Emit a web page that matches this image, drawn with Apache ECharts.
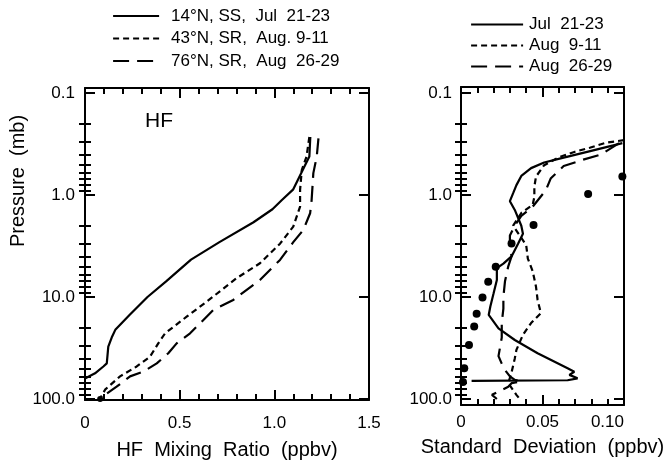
<!DOCTYPE html>
<html><head><meta charset="utf-8">
<script src="https://cdn.jsdelivr.net/npm/echarts@6/dist/echarts.min.js"></script>
<style>html,body{margin:0;padding:0;background:#fff}#c{width:667px;height:461px}</style>
</head><body><div id="c"></div>
<script>
const FONT = '"Liberation Sans", Arial, Helvetica, sans-serif';

// ---- axis ticks / labels ----
const pressureTicks = [0.1, 1, 10, 100];
const pressureTickLabels = ['0.1', '1.0', '10.0', '100.0'];
const pressureMinorTicks = [0.2,0.3,0.4,0.5,0.6,0.7,0.8,0.9,2,3,4,5,6,7,8,9,20,30,40,50,60,70,80,90];
const hfTicks = [0, 0.5, 1.0, 1.5];
const hfTickLabels = ['0', '0.5', '1.0', '1.5'];
const hfMinorTicks = [0.1,0.2,0.3,0.4,0.6,0.7,0.8,0.9,1.1,1.2,1.3,1.4];
const sdTicks = [0, 0.05, 0.10];
const sdTickLabels = ['0', '0.05', '0.10'];
const sdMinorTicks = [0.01,0.02,0.03,0.04,0.06,0.07,0.08,0.09];

// ---- left panel: HF mixing ratio (ppbv) vs pressure (mb) ----
const hf14Name = '14°N, SS,  Jul  21-23';
const hf14V = [1.19, 1.185, 1.15, 1.10, 1.04, 0.99, 0.89, 0.71, 0.56, 0.43, 0.33, 0.235, 0.16, 0.141, 0.123, 0.115, 0.097, 0.053, 0.0];
const hf14P = [0.27, 0.42, 0.57, 0.88, 1.12, 1.38, 1.85, 2.9, 4.3, 7.0, 10.0, 15.0, 21, 25, 30.7, 44.7, 48, 56, 63];

const hf43Name = '43°N, SR,  Aug. 9-11';
const hf43V = [1.185, 1.17, 1.145, 1.136, 1.136, 1.10, 1.03, 0.924, 0.80, 0.643, 0.537, 0.423, 0.387, 0.343, 0.273, 0.185, 0.106, 0.079];
const hf43P = [0.27, 0.42, 0.57, 0.89, 1.3, 2.04, 3.0, 4.67, 6.55, 11.1, 15.6, 22.7, 28.5, 38.5, 48, 60, 81, 100];

const hf76Name = '76°N, SR,  Aug  26-29';
const hf76V = [1.233, 1.224, 1.206, 1.197, 1.189, 1.153, 1.10, 1.03, 0.924, 0.783, 0.678, 0.555, 0.484, 0.44, 0.379, 0.308, 0.238, 0.167, 0.106, 0.08];
const hf76P = [0.278, 0.42, 0.61, 1.12, 1.51, 2.2, 2.9, 4.33, 6.8, 10.7, 13.4, 22.7, 28.5, 35.6, 44.7, 54, 60, 75.7, 91, 100];

const hfDotV = [0.08];
const hfDotP = [100];

// ---- right panel: standard deviation (ppbv) vs pressure (mb) ----
const sdJulName = 'Jul  21-23';
const sdJulV = [0.099, 0.078, 0.063, 0.051, 0.043, 0.037, 0.034, 0.032, 0.030, 0.033, 0.037, 0.038, 0.035, 0.031, 0.026, 0.022, 0.022, 0.020, 0.018, 0.017, 0.023, 0.033, 0.047, 0.0654, 0.0695, 0.0665, 0.0715, 0.0654, 0.0065];
const sdJulP = [0.31, 0.375, 0.43, 0.48, 0.545, 0.65, 0.8, 0.96, 1.15, 1.4, 2.0, 2.4, 3.0, 4.0, 4.7, 5.2, 6.8, 9.2, 12.4, 15, 20.3, 26.4, 35.6, 50, 54, 58, 62.7, 65.5, 66.5];

const sdAug9Name = 'Aug  9-11';
const sdAug9V = [0.1, 0.089, 0.079, 0.070, 0.060, 0.051, 0.046, 0.045, 0.045, 0.044, 0.037, 0.032, 0.040, 0.041, 0.044, 0.046, 0.047, 0.049, 0.043, 0.038, 0.034, 0.033, 0.031, 0.029, 0.034, 0.036];
const sdAug9P = [0.29, 0.307, 0.344, 0.376, 0.427, 0.51, 0.66, 0.83, 1.04, 1.25, 1.5, 2.0, 3.1, 4.2, 5.6, 7.9, 10.7, 14.4, 18, 23.5, 33, 40, 55, 70, 91, 100];

const sdAug26Name = 'Aug  26-29';
const sdAug26V = [0.097, 0.086, 0.075, 0.063, 0.055, 0.052, 0.044, 0.037, 0.033, 0.030, 0.030, 0.031, 0.029, 0.027, 0.026, 0.026, 0.025, 0.025, 0.023, 0.025, 0.027, 0.030, 0.033, 0.037, 0.031, 0.029, 0.019, 0.022];
const sdAug26P = [0.31, 0.40, 0.45, 0.52, 0.69, 0.9, 1.3, 1.6, 2.0, 2.5, 3.0, 4.0, 5.0, 7.0, 10, 13, 18, 25, 38, 45, 52, 60, 65, 67, 70, 76, 91, 100];

const sdDotV = [0.099, 0.078, 0.0445, 0.031, 0.0213, 0.0167, 0.0132, 0.0096, 0.0081, 0.0049, 0.002, 0.0012];
const sdDotP = [0.66, 0.98, 1.97, 2.98, 5.05, 7.1, 10.1, 14.6, 19.5, 29.5, 50, 68];

// ---- helpers ----
const zip = (v, p) => v.map((x, i) => [x, p[i]]);
const lookup = (vals, labels) => (value) => {
  for (let i = 0; i < vals.length; i++) {
    if (Math.abs(vals[i] - value) < 1e-9) return labels[i];
  }
  return '';
};
const logLookup = (vals, labels) => (value) => {
  for (let i = 0; i < vals.length; i++) {
    if (Math.abs(Math.log10(vals[i]) - Math.log10(value)) < 1e-6) return labels[i];
  }
  return '';
};
const BLACK = '#000';
const tickLine = { color: BLACK, width: 2 };
const frameLine = { show: true, onZero: false, lineStyle: { color: BLACK, width: 2 } };

function yAxesFor(gridIndex, min, max, labelMargin) {
  const base = {
    type: 'log', logBase: 10, gridIndex, min, max, inverse: true,
    splitLine: { show: false }, minorTick: { show: false }, minorSplitLine: { show: false },
    axisLine: { show: false }, axisTick: { show: false }, axisLabel: { show: false }
  };
  return [
    Object.assign({}, base, {
      position: 'left', axisLine: frameLine,
      axisTick: { show: true, inside: true, length: 10, lineStyle: tickLine, customValues: pressureTicks },
      axisLabel: { show: true, customValues: pressureTicks, formatter: logLookup(pressureTicks, pressureTickLabels),
        margin: labelMargin, color: BLACK, fontSize: 17, fontFamily: FONT }
    }),
    Object.assign({}, base, {
      position: 'left',
      axisTick: { show: true, inside: true, length: 6, lineStyle: tickLine, customValues: pressureMinorTicks }
    }),
    Object.assign({}, base, {
      position: 'right', axisLine: frameLine,
      axisTick: { show: true, inside: true, length: 10, lineStyle: tickLine, customValues: pressureTicks }
    }),
    Object.assign({}, base, {
      position: 'right',
      axisTick: { show: true, inside: true, length: 6, lineStyle: tickLine, customValues: pressureMinorTicks }
    })
  ];
}

function xAxesFor(gridIndex, max, ticks, labels, minor, margin, name, nameGap, alignMax) {
  const base = {
    type: 'value', gridIndex, min: 0, max,
    splitLine: { show: false }, minorSplitLine: { show: false }, minorTick: { show: false },
    axisLine: { show: false }, axisTick: { show: false }, axisLabel: { show: false }
  };
  return [
    Object.assign({}, base, {
      position: 'bottom', axisLine: frameLine,
      axisTick: { show: true, inside: true, length: 10, lineStyle: tickLine, customValues: ticks },
      axisLabel: { show: true, customValues: ticks, formatter: lookup(ticks, labels), margin, color: BLACK,
        fontSize: 17, fontFamily: FONT, alignMaxLabel: alignMax },
      name, nameLocation: 'middle', nameGap,
      nameTextStyle: { color: BLACK, fontSize: 20, fontFamily: FONT }
    }),
    Object.assign({}, base, {
      position: 'bottom',
      axisTick: { show: true, inside: true, length: 6, lineStyle: tickLine, customValues: minor }
    }),
    Object.assign({}, base, {
      position: 'top', axisLine: frameLine,
      axisTick: { show: true, inside: true, length: 10, lineStyle: tickLine, customValues: ticks }
    }),
    Object.assign({}, base, {
      position: 'top',
      axisTick: { show: true, inside: true, length: 6, lineStyle: tickLine, customValues: minor }
    })
  ];
}

const lineSeries = (name, xi, yi, data, type) => ({
  name, type: 'line', xAxisIndex: xi, yAxisIndex: yi, data, symbol: 'none',
  lineStyle: { color: BLACK, width: 2.2, type }, itemStyle: { color: BLACK },
  emphasis: { disabled: true }, animation: false
});
const dotSeries = (name, xi, yi, data, size) => ({
  name, type: 'scatter', xAxisIndex: xi, yAxisIndex: yi, data, symbol: 'circle', symbolSize: size,
  itemStyle: { color: BLACK, opacity: 1 }, emphasis: { disabled: true }, animation: false, clip: false
});

const SHORT = [6, 4];
const LONG = [16, 8];
const hiddenSymbol = { color: 'rgba(0,0,0,0)', borderColor: 'rgba(0,0,0,0)', borderWidth: 0, opacity: 0 };

const option = {
  backgroundColor: '#fff',
  animation: false,
  title: {
    text: 'HF', left: 145, top: 111, padding: 0,
    textStyle: { fontFamily: FONT, fontSize: 21, fontWeight: 'normal', color: BLACK }
  },
  legend: [
    {
      data: [hf14Name, hf43Name, hf76Name], orient: 'vertical', left: 112, top: 7.5, padding: 0,
      itemWidth: 46, itemHeight: 14, itemGap: 5.5, selectedMode: false,
      itemStyle: hiddenSymbol, lineStyle: { width: 2.2 },
      textStyle: { fontFamily: FONT, fontSize: 17, color: BLACK, padding: [0, 0, 0, 7] }
    },
    {
      data: [sdJulName, sdAug9Name, sdAug26Name], orient: 'vertical', left: 470, top: 16, padding: 0,
      itemWidth: 52, itemHeight: 14, itemGap: 4, selectedMode: false,
      itemStyle: hiddenSymbol, lineStyle: { width: 2.2 },
      textStyle: { fontFamily: FONT, fontSize: 17, color: BLACK, padding: [0, 0, 0, 1] }
    }
  ],
  grid: [
    { left: 85, top: 88, width: 284, height: 312, outerBoundsMode: 'none', containLabel: false },
    { left: 461, top: 87, width: 163, height: 318, outerBoundsMode: 'none', containLabel: false }
  ],
  xAxis: [
    ...xAxesFor(0, 1.5, hfTicks, hfTickLabels, hfMinorTicks, 15, 'HF  Mixing  Ratio  (ppbv)', 40, null),
    ...xAxesFor(1, 0.10, sdTicks, sdTickLabels, sdMinorTicks, 9, 'Standard  Deviation  (ppbv)', 32, 'right')
  ],
  yAxis: [
    ...yAxesFor(0, 0.0893, 102.3, 10),
    ...yAxesFor(1, 0.0873, 114.5, 9)
  ],
  graphic: [
    {
      type: 'text', x: 18, y: 181, rotation: Math.PI / 2,
      style: { text: 'Pressure  (mb)', font: '20px ' + FONT, fill: BLACK, align: 'center', verticalAlign: 'middle' }
    }
  ],
  series: [
    lineSeries(hf14Name, 0, 0, zip(hf14V, hf14P), 'solid'),
    lineSeries(hf43Name, 0, 0, zip(hf43V, hf43P), SHORT),
    lineSeries(hf76Name, 0, 0, zip(hf76V, hf76P), LONG),
    dotSeries('HF 100 mb point', 0, 0, zip(hfDotV, hfDotP), 6),
    lineSeries(sdJulName, 4, 4, zip(sdJulV, sdJulP), 'solid'),
    lineSeries(sdAug9Name, 4, 4, zip(sdAug9V, sdAug9P), SHORT),
    lineSeries(sdAug26Name, 4, 4, zip(sdAug26V, sdAug26P), LONG),
    dotSeries('Points', 4, 4, zip(sdDotV, sdDotP), 8)
  ]
};

const chart = echarts.init(document.getElementById('c'), null, { renderer: 'canvas' });
chart.setOption(option);
</script>
</body></html>
